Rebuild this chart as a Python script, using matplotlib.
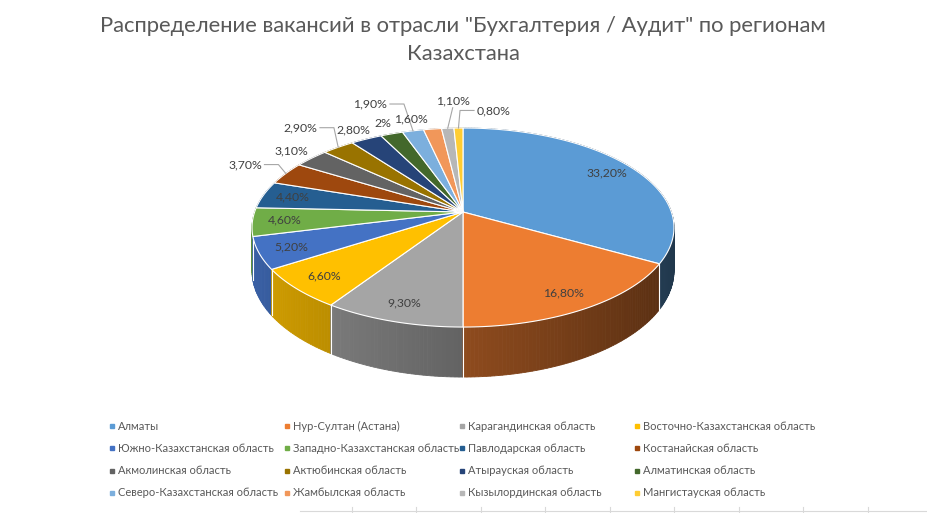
import numpy as np
import matplotlib.pyplot as plt
from matplotlib.patches import Polygon
from matplotlib.colors import to_rgb

title_lines = ['Распределение вакансий в отрасли "Бухгалтерия / Аудит" по регионам', 'Казахстана']

regions = ['Алматы', 'Нур-Султан (Астана)', 'Карагандинская область', 'Восточно-Казахстанская область',
           'Южно-Казахстанская область', 'Западно-Казахстанская область', 'Павлодарская область', 'Костанайская область',
           'Акмолинская область', 'Актюбинская область', 'Атырауская область', 'Алматинская область',
           'Северо-Казахстанская область', 'Жамбылская область', 'Кызылординская область', 'Мангистауская область']
shares = [33.2, 16.8, 9.3, 6.6, 5.2, 4.6, 4.4, 3.7, 3.1, 2.9, 2.8, 2.0, 1.9, 1.6, 1.1, 0.8]
colors = ['#5B9BD5', '#ED7D31', '#A5A5A5', '#FFC000', '#4472C4', '#70AD47', '#255E91', '#9E480E',
          '#636363', '#997300', '#264478', '#43682B', '#7CAFDD', '#F1975A', '#B7B7B7', '#FFCD33']

# label layout: radius factor (1 = rim) and sideways nudge in px; leader for far labels
label_r = [0.85, 0.85, 0.85, 0.85, 0.85, 0.85, 0.85, 1.25, 1.15, 1.35, 1.15, 1.15, 1.4, 1.15, 1.4, 1.25]
label_dx = [0, 0, 0, 0, 0, 0, 0, 0, 0, 0, 0, 0, -26, -18, 10, 36]
leader = [False] * 7 + [True, False, True, False, False, True, False, True, True]

# pie geometry in pixels (perspective-ish top face + extruded wall)
CX, CY = 463, 212
RX, RY = 208.4, 97.1
K = 0.156
DEPTH = 42.2

TXT = '#595959'
FONT = 'Lato'


def proj(t, f=1.0):
    u, v = f * np.cos(t), f * np.sin(t)
    d = 1 + K * v
    return CX + RX * u / d, CY - RY * v / d


def fmt(v):
    if float(v).is_integer():
        return f'{int(v)}%'
    return f'{v:.2f}%'.replace('.', ',')


fig = plt.figure(figsize=(9.27, 5.13), dpi=100)
ax = fig.add_axes([0, 0, 1, 1])
ax.set_xlim(0, 927); ax.set_ylim(513, 0); ax.axis('off')

frac = np.array(shares) / sum(shares)
edges = np.concatenate([[0], np.cumsum(frac)])
# angles in radians, start at 12 o'clock, clockwise
ang = np.pi / 2 - 2 * np.pi * edges

# walls: small quads sorted back to front
quads = []
for i in range(len(shares)):
    ts = np.linspace(ang[i], ang[i + 1], max(4, int(frac[i] * 400)))
    base = np.array(to_rgb(colors[i]))
    for a, b in zip(ts[:-1], ts[1:]):
        xa, ya = proj(a); xb, yb = proj(b)
        da = DEPTH / (1 + K * np.sin(a)); db = DEPTH / (1 + K * np.sin(b))
        tm = (a + b) / 2
        shade = 0.6 - 0.25 * np.cos(tm)
        c = np.clip(base * shade, 0, 1)
        quads.append((np.sin(tm), [(xa, ya), (xb, yb), (xb, yb + db), (xa, ya + da)], c))
quads.sort(key=lambda q: -q[0])
for _, pts, c in quads:
    ax.add_patch(Polygon(pts, closed=True, facecolor=c, edgecolor=c, lw=0.6, zorder=1))

# white seams on the front wall
for a in ang:
    if np.sin(a) < -0.05:
        x, y = proj(a)
        ax.plot([x, x], [y, y + DEPTH / (1 + K * np.sin(a))], color='white', lw=0.8, zorder=2)

# top face
for i in range(len(shares)):
    ts = np.linspace(ang[i], ang[i + 1], max(3, int(frac[i] * 400)))
    xs, ys = proj(ts)
    pts = [(CX, CY)] + list(zip(xs, ys))
    ax.add_patch(Polygon(pts, closed=True, facecolor=colors[i], edgecolor='white', lw=0.8, zorder=3))

# data labels
for i, v in enumerate(shares):
    tm = (ang[i] + ang[i + 1]) / 2
    lx, ly = proj(tm, label_r[i])
    lx += label_dx[i]
    txt = fmt(v)
    ax.text(lx, ly, txt, ha='center', va='center', fontsize=8.8, color='#404040', family=FONT, zorder=5)
    if leader[i]:
        rx, ry = proj(tm, 1.0)
        half = 3.5 * len(txt)
        if abs(rx - lx) > 12:
            sx = lx + half + 2 if rx > lx else lx - half - 2
            mx = sx + 14 if rx > lx else sx - 14
            ax.plot([sx, mx, rx], [ly, ly, ry], color='#a6a6a6', lw=0.8, zorder=4)
        else:
            ax.plot([lx, rx], [ly + 7, ry], color='#a6a6a6', lw=0.8, zorder=4)

# title
ax.text(CX, 26, title_lines[0], ha='center', va='center', fontsize=15.8, color=TXT, family=FONT)
ax.text(CX, 54, title_lines[1], ha='center', va='center', fontsize=15.8, color=TXT, family=FONT)

# legend grid, row-wise like Excel
for i, name in enumerate(regions):
    col, row = i % 4, i // 4
    x = 112 + 175 * col
    y = 426 + 22.3 * row
    ax.plot([x], [y], marker='s', ms=3, color=colors[i], ls='none')
    ax.text(x + 6, y, name, ha='left', va='center', fontsize=8.0, color=TXT, family=FONT)

# faint sheet gridlines below the chart
ax.plot([300, 927], [511, 511], color='#d9d9d9', lw=0.8)
for gx in np.arange(352, 927, 64.5):
    ax.plot([gx, gx], [507, 513], color='#d9d9d9', lw=0.8)

fig.savefig('out.png', dpi=100)
